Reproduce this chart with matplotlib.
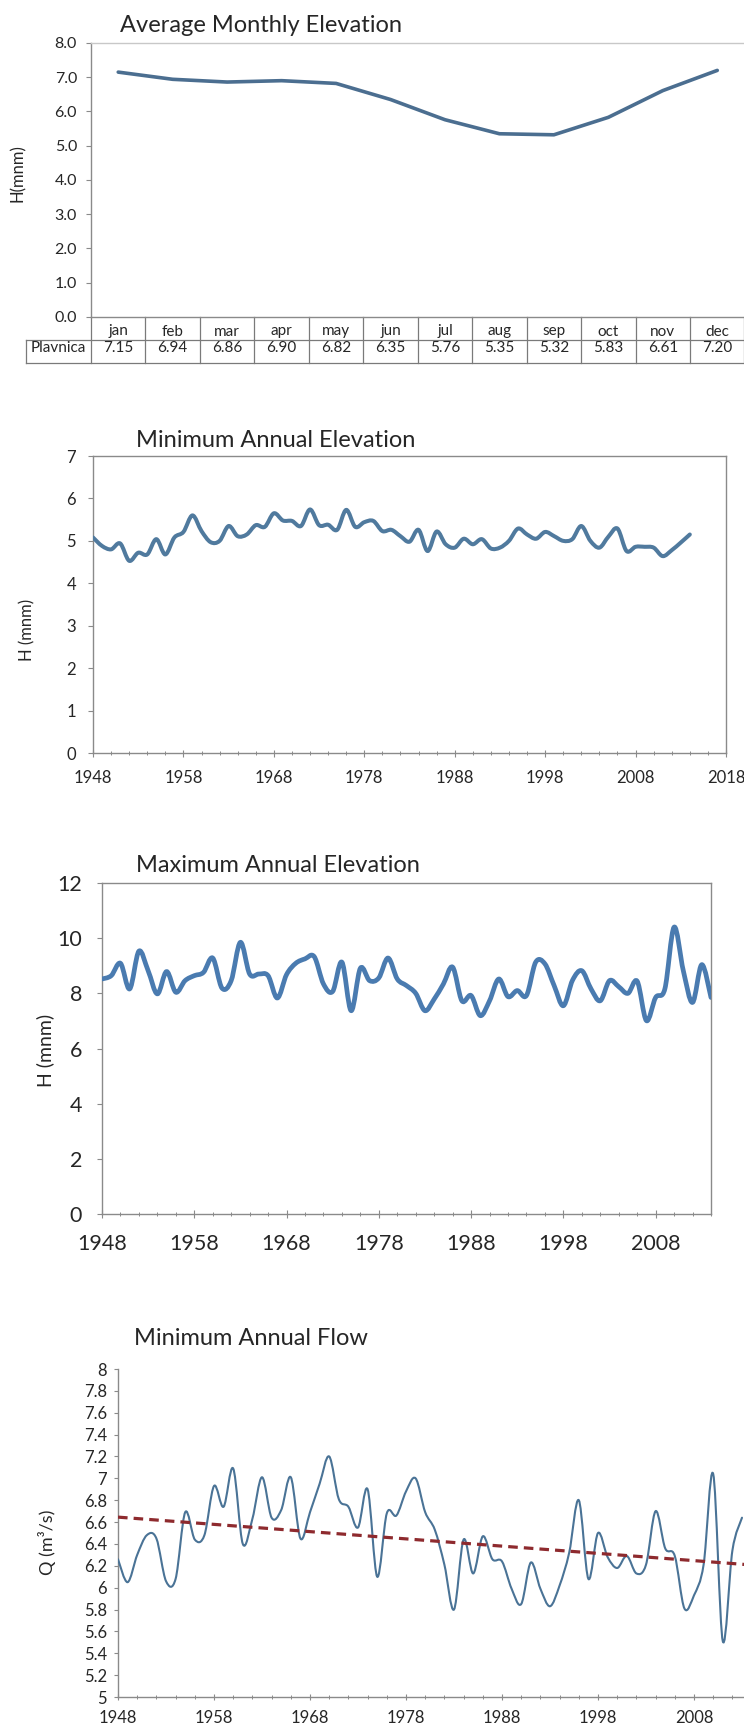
import numpy as np
import matplotlib
matplotlib.use("Agg")
import matplotlib.pyplot as plt
from matplotlib.path import Path
from matplotlib.patches import PathPatch
from matplotlib.lines import Line2D
from matplotlib.transforms import blended_transform_factory
from matplotlib.ticker import FixedLocator, FuncFormatter

plt.rcParams['font.family'] = ['Lato', 'DejaVu Sans']

# ---------------------------------------------------------------- data
months = ['jan', 'feb', 'mar', 'apr', 'may', 'jun',
          'jul', 'aug', 'sep', 'oct', 'nov', 'dec']
station = 'Plavnica'
monthly_elev = [7.15, 6.94, 6.86, 6.90, 6.82, 6.35,
                5.76, 5.35, 5.32, 5.83, 6.61, 7.20]

elev_years = list(range(1948, 2015))
min_elev = [5.08, 4.88, 4.80, 4.94, 4.53, 4.72, 4.68, 5.04, 4.68, 5.08,
            5.21, 5.60, 5.23, 4.97, 5.00, 5.35, 5.11, 5.15, 5.37, 5.33,
            5.65, 5.48, 5.47, 5.35, 5.74, 5.37, 5.38, 5.26, 5.73, 5.33,
            5.44, 5.47, 5.23, 5.26, 5.11, 4.98, 5.26, 4.76, 5.22, 4.92,
            4.84, 5.05, 4.92, 5.04, 4.82, 4.84, 5.00, 5.29, 5.15, 5.05,
            5.21, 5.11, 5.00, 5.04, 5.35, 5.00, 4.84, 5.10, 5.29, 4.76,
            4.86, 4.86, 4.84, 4.64, 4.78, 4.96, 5.15]

max_elev = [8.52, 8.64, 9.09, 8.16, 9.53, 8.82, 7.98, 8.79, 8.04, 8.46,
            8.64, 8.76, 9.28, 8.19, 8.46, 9.85, 8.70, 8.70, 8.64, 7.83,
            8.68, 9.09, 9.25, 9.33, 8.34, 8.07, 9.13, 7.37, 8.91, 8.46,
            8.56, 9.28, 8.52, 8.28, 8.00, 7.37, 7.79, 8.34, 8.95, 7.73,
            7.92, 7.19, 7.73, 8.52, 7.88, 8.10, 7.92, 9.13, 9.07, 8.28,
            7.55, 8.48, 8.82, 8.16, 7.73, 8.46, 8.24, 8.00, 8.44, 7.01,
            7.85, 8.16, 10.40, 8.82, 7.67, 9.04, 7.85]

flow_years = list(range(1948, 2014))
min_flow = [6.26, 6.05, 6.30, 6.48, 6.45, 6.06, 6.08, 6.69, 6.44, 6.48,
            6.93, 6.74, 7.09, 6.40, 6.63, 7.01, 6.64, 6.71, 7.01, 6.45,
            6.69, 6.95, 7.20, 6.81, 6.74, 6.55, 6.90, 6.10, 6.68, 6.66,
            6.88, 7.00, 6.69, 6.53, 6.21, 5.80, 6.44, 6.13, 6.47, 6.26,
            6.24, 5.99, 5.85, 6.23, 5.99, 5.83, 6.02, 6.32, 6.80, 6.08,
            6.50, 6.28, 6.18, 6.29, 6.13, 6.21, 6.70, 6.36, 6.29, 5.81,
            5.93, 6.21, 7.04, 5.51, 6.34, 6.64]

# ---------------------------------------------------------------- layout helpers
W, H, DPI = 744, 1726, 100
fig = plt.figure(figsize=(W / DPI, H / DPI), dpi=DPI, facecolor='white')

TXT = '#262626'
AXC = '#8a8a8a'
PT = 72.0 / DPI  # points per pixel


def px_axes(left, top, right, bottom):
    return fig.add_axes([left / W, 1 - bottom / H, (right - left) / W, (bottom - top) / H])


def fig_text(x, y, s, **kw):
    kw.setdefault('color', TXT)
    return fig.text(x / W, 1 - y / H, s, **kw)


def smooth_path(x, y):
    """Cubic Bezier path through every point (smoothed line like spreadsheet charts)."""
    x = np.asarray(x, float)
    y = np.asarray(y, float)
    n = len(x)
    verts = [(x[0], y[0])]
    codes = [Path.MOVETO]
    for i in range(n - 1):
        xp, yp = (x[i - 1], y[i - 1]) if i > 0 else (x[i], y[i])
        xn, yn = (x[i + 2], y[i + 2]) if i + 2 < n else (x[i + 1], y[i + 1])
        c1 = (x[i] + (x[i + 1] - xp) / 6.0, y[i] + (y[i + 1] - yp) / 6.0)
        c2 = (x[i + 1] - (xn - x[i]) / 6.0, y[i + 1] - (yn - y[i]) / 6.0)
        verts += [c1, c2, (x[i + 1], y[i + 1])]
        codes += [Path.CURVE4] * 3
    return Path(verts, codes)


def smooth_line(ax, x, y, color, lw):
    patch = PathPatch(smooth_path(x, y), facecolor='none', edgecolor=color,
                      lw=lw, capstyle='round', joinstyle='round', zorder=3)
    ax.add_patch(patch)


def style_spines(ax, visible, color=AXC):
    for side, sp in ax.spines.items():
        sp.set_visible(side in visible)
        sp.set_color(color)
        sp.set_linewidth(1.0)


# ================================================================ 1. Average Monthly Elevation
ax1 = px_axes(91, 43, 744.5, 317)
x_m = np.arange(len(months))
ax1.plot(x_m, monthly_elev, color='#4b6e90', lw=2.6,
         solid_joinstyle='round', solid_capstyle='round', zorder=3)
ax1.set_xlim(-0.5, len(months) - 0.5)
ax1.set_ylim(0, 8)
style_spines(ax1, ['left', 'bottom', 'top'])
ax1.spines['top'].set_color('#c8c8c8')
ax1.set_yticks(np.arange(0, 8.01, 1.0))
ax1.yaxis.set_major_formatter(FuncFormatter(lambda v, p: f'{v:.1f}'))
ax1.tick_params(axis='y', direction='out', length=5 * PT, width=0.8, color=AXC,
                labelsize=11.5, labelcolor=TXT, pad=9 * PT)
ax1.set_xticks([])

# data table under the x axis
tr = blended_transform_factory(ax1.transData, ax1.transAxes)
ax_h = 317 - 43
row1 = -23 / ax_h
row2 = -46 / ax_h
x_left_cell = -0.5 - (91 - 26) / ((744.5 - 91) / len(months))
x_right = len(months) - 0.5
tbl_c = '#7a7a7a'
lines = [
    ([x_left_cell, x_right], [row1, row1]),
    ([x_left_cell, x_right], [row2, row2]),
    ([x_left_cell, x_left_cell], [row1, row2]),
]
for k in range(len(months) + 1):
    xb = k - 0.5
    lines.append(([xb, xb], [0, row2]))
for xs, ys in lines:
    ax1.add_line(Line2D(xs, ys, transform=tr, color=tbl_c, lw=0.9, clip_on=False))
for i, (m, v) in enumerate(zip(months, monthly_elev)):
    ax1.text(i, -18.5 / ax_h, m, transform=tr, ha='center', va='baseline',
             fontsize=11, color=TXT, clip_on=False)
    ax1.text(i, -35.5 / ax_h, f'{v:.2f}', transform=tr, ha='center', va='baseline',
             fontsize=11, color=TXT, clip_on=False)
ax1.text((x_left_cell - 0.5) / 2, -35.5 / ax_h, station, transform=tr, ha='center',
         va='baseline', fontsize=11, color=TXT, clip_on=False)

fig_text(120, 32, 'Average Monthly Elevation', fontsize=17, ha='left', va='baseline')
fig_text(18, 173, 'H(mnm)', fontsize=12, rotation=90, ha='center', va='center')


# ================================================================ shared style for annual charts
def year_axis(ax, first, last, major_last, label_size, pad, major_len, minor_len):
    ax.set_xlim(first, last)
    ax.xaxis.set_major_locator(FixedLocator(list(range(first, major_last + 1, 10))))
    ax.xaxis.set_minor_locator(FixedLocator(list(range(first, last + 1, 2))))
    ax.xaxis.set_major_formatter(FuncFormatter(lambda v, p: f'{int(round(v))}'))
    ax.tick_params(axis='x', which='major', direction='inout', length=major_len, width=0.8,
                   color=AXC, labelsize=label_size, labelcolor=TXT, pad=pad)
    ax.tick_params(axis='x', which='minor', direction='inout', length=minor_len, width=0.7,
                   color=AXC)


# ================================================================ 2. Minimum Annual Elevation
ax2 = px_axes(93, 456, 726, 753)
smooth_line(ax2, elev_years, min_elev, '#507a9e', 2.9)
ax2.set_ylim(0, 7)
style_spines(ax2, ['left', 'bottom', 'top', 'right'])
ax2.set_yticks(range(0, 8))
ax2.tick_params(axis='y', direction='out', length=5 * PT, width=0.8, color=AXC,
                labelsize=12, labelcolor=TXT, pad=12 * PT)
year_axis(ax2, 1948, 2018, 2018, 12, 13.5 * PT, 7 * PT, 5 * PT)
fig_text(136, 447, 'Minimum Annual Elevation', fontsize=17, ha='left', va='baseline')
fig_text(27, 630, 'H (mnm)', fontsize=12, rotation=90, ha='center', va='center')

# ================================================================ 3. Maximum Annual Elevation
ax3 = px_axes(102, 883, 711, 1214)
smooth_line(ax3, elev_years, max_elev, '#4a7bb0', 3.4)
ax3.set_ylim(0, 12)
style_spines(ax3, ['left', 'bottom', 'top', 'right'])
ax3.set_yticks(range(0, 13, 2))
ax3.tick_params(axis='y', direction='out', length=5 * PT, width=0.8, color=AXC,
                labelsize=15.5, labelcolor=TXT, pad=15 * PT)
year_axis(ax3, 1948, 2014, 2008, 15.5, 16 * PT, 8 * PT, 5 * PT)
fig_text(136, 872, 'Maximum Annual Elevation', fontsize=17, ha='left', va='baseline')
fig_text(45, 1050, 'H (mnm)', fontsize=14, rotation=90, ha='center', va='center')

# ================================================================ 4. Minimum Annual Flow
px_per_year = (598 - 118) / 50.0
ax4 = px_axes(118, 1369, 118 + 70 * px_per_year, 1697)
smooth_line(ax4, flow_years, min_flow, '#4a7396', 1.5)
slope, intercept = np.polyfit(flow_years, min_flow, 1)
trend_x = np.array([flow_years[0], flow_years[-1] + 1])
ax4.plot(trend_x, slope * trend_x + intercept, color='#8e2a2e', lw=2.3,
         linestyle=(0, (3.0, 1.9)), zorder=4)
ax4.set_ylim(5, 8)
style_spines(ax4, ['left', 'bottom'])
ax4.set_yticks(np.round(np.arange(5, 8.001, 0.2), 1))
ax4.yaxis.set_major_formatter(FuncFormatter(lambda v, p: f'{round(v, 1):g}'))
ax4.tick_params(axis='y', direction='out', length=4 * PT, width=0.8, color=AXC,
                labelsize=12, labelcolor=TXT, pad=7 * PT)
year_axis(ax4, 1948, 2018, 2008, 12, 10 * PT, 6 * PT, 5 * PT)
fig_text(134, 1345, 'Minimum Annual Flow', fontsize=17, ha='left', va='baseline')
fig_text(47, 1542, 'Q (m³/s)', fontsize=13, rotation=90, ha='center', va='center')

fig.savefig('out.png', dpi=DPI, facecolor='white')
